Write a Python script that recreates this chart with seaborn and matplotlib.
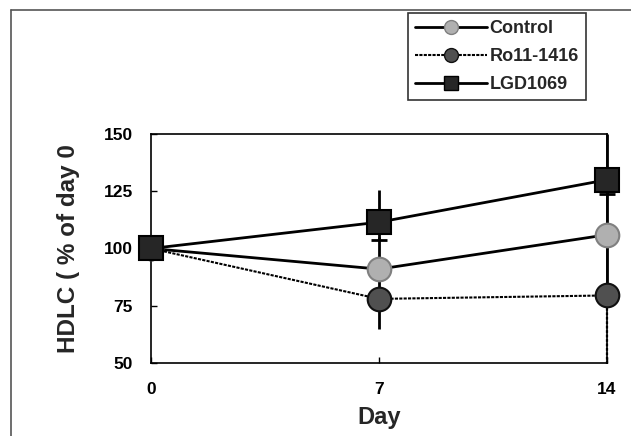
import numpy as np
import pandas as pd
import matplotlib
matplotlib.use("Agg")
import matplotlib.pyplot as plt
from matplotlib.lines import Line2D
import seaborn as sns

days = [0, 7, 14]
groups = ["Control", "Ro11-1416", "LGD1069"]
control = [100, 91, 106]
ro = [100, 78, 79.5]
lgd = [100, 111.5, 130]
# asymmetric error (lower, upper)
control_lo = [0, 14, 26]
control_hi = [0, 14, 26]
ro_lo = [0, 13, 30]
ro_hi = [0, 3, 3]
lgd_lo = [0, 8, 6]
lgd_hi = [0, 14, 20]
yticks = [50, 75, 100, 125, 150]
xticks = [0, 7, 14]

df = pd.DataFrame({
    "Day": days * 3,
    "HDLC": control + ro + lgd,
    "Group": [g for g in groups for _ in days],
})

sns.set_theme(style="white")
plt.rcParams["font.family"] = ["Liberation Sans", "DejaVu Sans"]
plt.rcParams["font.weight"] = "bold"

fig = plt.figure(figsize=(6.31, 4.36), dpi=100)
ax = fig.add_axes([0.2393, 0.1674, 0.7227, 0.5253])

face = {"Control": "#b0b0b0", "Ro11-1416": "#505050", "LGD1069": "#262626"}
edge = {"Control": "#808080", "Ro11-1416": "#111111", "LGD1069": "#000000"}

# error bars
series = {"Control": (control, control_lo, control_hi),
          "Ro11-1416": (ro, ro_lo, ro_hi),
          "LGD1069": (lgd, lgd_lo, lgd_hi)}
for g, (vals, lo, hi) in series.items():
    r1 = ax.errorbar(days, vals, yerr=[[0] * 3, hi], fmt="none", ecolor="black",
                     elinewidth=2, capsize=0, zorder=2)
    cap = 6 if g == "LGD1069" else 0
    r2 = ax.errorbar(days, vals, yerr=[lo, [0] * 3], fmt="none", ecolor="black",
                     elinewidth=2, capsize=cap, capthick=2, zorder=2)
    for r in (r1, r2):
        for c in r[2]:
            c.set_clip_on(False)
        for c in r[1]:
            c.set_clip_on(False)
    if g == "Ro11-1416":
        r2[2][0].set_linestyles(["-", "-", (0, (1.2, 0.8))])
        r2[2][0].set_linewidths([2, 2, 1.6])

sns.lineplot(data=df, x="Day", y="HDLC", hue="Group", style="Group",
             hue_order=groups, style_order=groups,
             palette={g: "black" for g in groups},
             markers={"Control": "o", "Ro11-1416": "o", "LGD1069": "s"},
             dashes={"Control": "", "Ro11-1416": (1.5, 0.6), "LGD1069": ""},
             linewidth=2, markersize=17, ax=ax, legend=False, zorder=3)

for line, g in zip(ax.lines[-3:], groups):
    line.set_markerfacecolor(face[g])
    line.set_markeredgecolor(edge[g])
    line.set_markeredgewidth(1.5)
    line.set_clip_on(False)
    if g == "Ro11-1416":
        line.set_linewidth(1.5)

ax.set_xlim(0, 14)
ax.set_ylim(50, 150)
ax.set_xticks(xticks)
ax.set_yticks(yticks)
ax.set_xticklabels([str(t) for t in xticks], fontsize=12.5, fontweight="bold")
ax.set_yticklabels([str(t) for t in yticks], fontsize=12.5, fontweight="bold")
ax.tick_params(direction="in", length=4, width=1, color="black",
               left=True, bottom=True, labelcolor="black")
ax.tick_params(axis="x", pad=14)
ax.tick_params(axis="y", pad=13)
for s in ax.spines.values():
    s.set_visible(True)
    s.set_color("black")
    s.set_linewidth(1.2)

ax.set_xlabel("Day", fontsize=17, fontweight="bold", labelpad=6)
ax.set_ylabel("HDLC ( % of day 0", fontsize=17.5, fontweight="bold")
ax.yaxis.set_label_coords(-0.155, 0.5)

handles = [Line2D([0], [0], color="black", lw=2 if g != "Ro11-1416" else 1.5,
                  linestyle="-" if g != "Ro11-1416" else (0, (1.5, 0.6)),
                  marker="o" if g != "LGD1069" else "s", markersize=10,
                  markerfacecolor=face[g], markeredgecolor=edge[g])
           for g in groups]
leg = fig.legend(handles, groups, loc="upper right",
                 bbox_to_anchor=(0.929, 0.97), bbox_transform=fig.transFigure,
                 frameon=True, fancybox=False, handlelength=4.0,
                 handletextpad=0.15, borderpad=0.4, labelspacing=0.6,
                 borderaxespad=0.0,
                 prop={"weight": "bold", "size": 13})
leg.get_frame().set_edgecolor("black")
leg.get_frame().set_linewidth(1.2)

# scan frame lines
fig.add_artist(Line2D([0.0175, 0.0175], [0, 0.977], color="#555555", lw=1.2,
                      transform=fig.transFigure))
fig.add_artist(Line2D([0.0175, 1.0], [0.977, 0.977], color="#555555", lw=1.2,
                      transform=fig.transFigure))

fig.savefig("out.png", dpi=100, facecolor="white")
